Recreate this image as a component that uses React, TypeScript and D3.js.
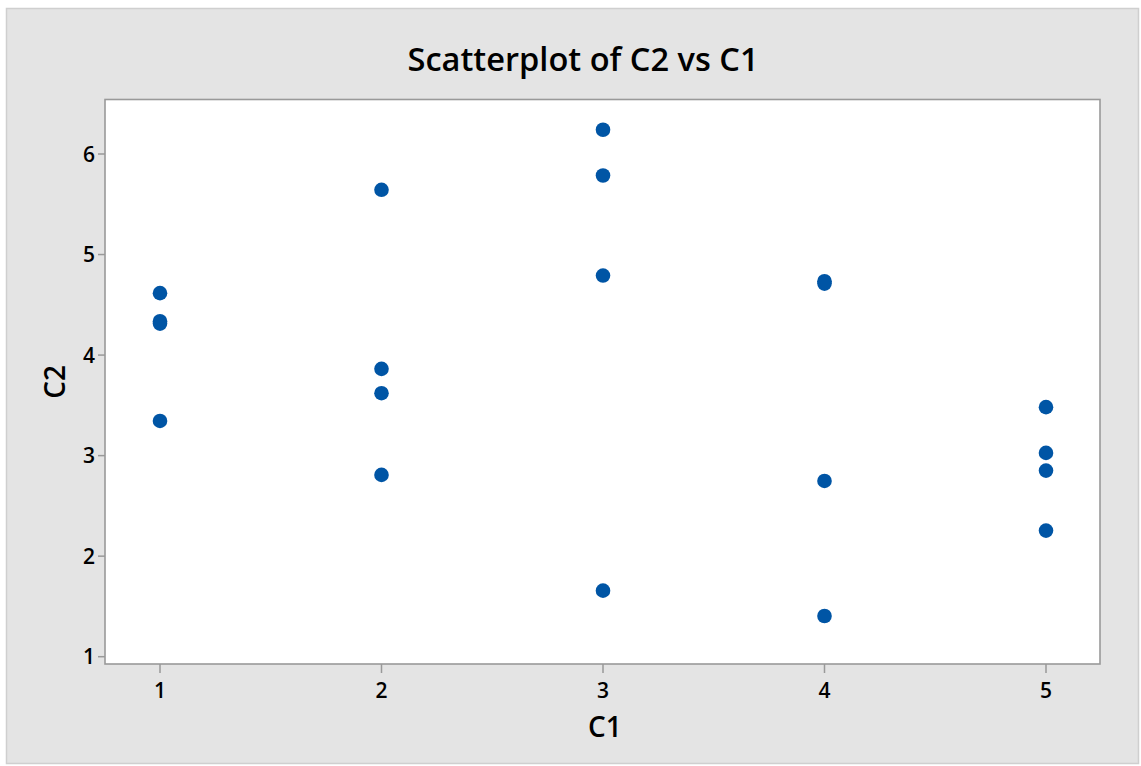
import React from "react";
import * as d3 from "d3";

const C1: number[] = [1, 1, 1, 1, 2, 2, 2, 2, 3, 3, 3, 3, 4, 4, 4, 4, 5, 5, 5, 5];
const C2: number[] = [4.616, 4.337, 4.313, 3.345, 5.644, 3.863, 3.621, 2.808, 6.241, 5.786, 4.791, 1.657, 4.735, 4.711, 2.748, 1.405, 3.482, 3.027, 2.851, 2.254];
const xTicks: number[] = [1, 2, 3, 4, 5];
const yTicks: number[] = [1, 2, 3, 4, 5, 6];
const title = "Scatterplot of C2 vs C1";
const xLabel = "C1";
const yLabel = "C2";

const W = 1141;
const H = 766;
const plot = { left: 105, top: 99.5, right: 1100, bottom: 664 };
const FONT = "'Open Sans', 'Noto Sans', sans-serif";

export default function App() {
  const x = d3.scaleLinear().domain([1, 5]).range([160, 1046]);
  const y = d3.scaleLinear().domain([1, 6]).range([656.7, 154]);
  const grid = "#999999";
  return (
    <svg width={W} height={H} style={{ position: "absolute", left: 0, top: 0, display: "block" }}>
      <rect x={0} y={0} width={W} height={H} fill="#ffffff" />
      <rect x={6.5} y={8.5} width={W - 9} height={H - 11} fill="#e4e4e4" stroke="#cfcfcf" strokeWidth={1.5} />
      <text x={583} y={71} textAnchor="middle" fontFamily={FONT} fontWeight={600} fontSize={32.6} fill="#000">
        {title}
      </text>
      <rect x={plot.left} y={plot.top} width={plot.right - plot.left} height={plot.bottom - plot.top} fill="#ffffff" stroke={grid} strokeWidth={1.6} />
      {xTicks.map((t) => (
        <g key={"x" + t}>
          <line x1={x(t)} x2={x(t)} y1={plot.bottom} y2={plot.bottom + 9} stroke={grid} strokeWidth={1.5} />
          <text x={x(t)} y={697.5} textAnchor="middle" fontFamily={FONT} fontWeight={600} fontSize={21} fill="#000">
            {t}
          </text>
        </g>
      ))}
      {yTicks.map((t) => (
        <g key={"y" + t}>
          <line x1={plot.left - 7} x2={plot.left} y1={y(t)} y2={y(t)} stroke={grid} strokeWidth={1.5} />
          <text x={95} y={y(t)} dy="0.36em" textAnchor="end" fontFamily={FONT} fontWeight={600} fontSize={21} fill="#000">
            {t}
          </text>
        </g>
      ))}
      <text x={605} y={737} textAnchor="middle" fontFamily={FONT} fontWeight={600} fontSize={28} fill="#000">
        {xLabel}
      </text>
      <text
        transform={`translate(65, ${(plot.top + plot.bottom) / 2}) rotate(-90)`}
        textAnchor="middle"
        fontFamily={FONT}
        fontWeight={600}
        fontSize={28}
        fill="#000"
      >
        {yLabel}
      </text>
      {C1.map((c, i) => (
        <circle key={i} cx={x(c)} cy={y(C2[i])} r={7.3} fill="#0055a5" />
      ))}
    </svg>
  );
}
